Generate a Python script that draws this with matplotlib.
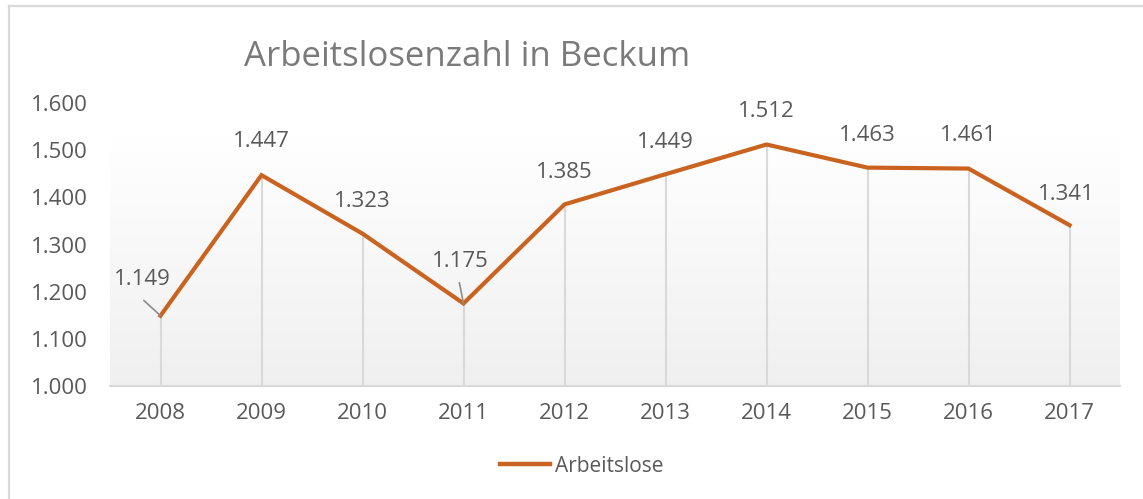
import numpy as np
import matplotlib.pyplot as plt
from matplotlib.lines import Line2D

# chart data
years = ['2008', '2009', '2010', '2011', '2012', '2013', '2014', '2015', '2016', '2017']
arbeitslose = [1149, 1447, 1323, 1175, 1385, 1449, 1512, 1463, 1461, 1341]
label_texts = ['1.149', '1.447', '1.323', '1.175', '1.385', '1.449', '1.512', '1.463', '1.461', '1.341']
y_ticks = [1000, 1100, 1200, 1300, 1400, 1500, 1600]
y_tick_labels = ['1.000', '1.100', '1.200', '1.300', '1.400', '1.500', '1.600']

plt.rcParams['font.family'] = ['Open Sans', 'DejaVu Sans']
text_col = '#595959'
line_col = '#c9631f'
grid_col = '#d9d9d9'

fig = plt.figure(figsize=(11.43, 4.99), dpi=100)
W, H = 1143, 499

# outer chart border
fig.add_artist(Line2D([9 / W, 9 / W], [0, 1 - 6 / H], color=grid_col, lw=1.6))
fig.add_artist(Line2D([9 / W, 1], [1 - 6 / H, 1 - 6 / H], color=grid_col, lw=1.6))

ax = fig.add_axes([110 / W, 1 - 386 / H, (1120 - 110) / W, (386 - 103) / H])
x = np.arange(len(years))
ax.set_xlim(-0.5, len(years) - 0.5)
ax.set_ylim(1000, 1600)

# plot area gradient (white on top, light grey at the bottom)
grad = np.linspace(1.0, 0.94, 256).reshape(-1, 1)
grad_img = np.dstack([grad, grad, grad])
ax.imshow(grad_img, extent=[-0.5, len(years) - 0.5, 1000, 1530], aspect='auto',
          origin='upper', zorder=0)

# drop lines
ax.vlines(x, 1000, arbeitslose, color=grid_col, lw=1.5, zorder=1)
ax.plot(x, arbeitslose, color=line_col, lw=3, solid_joinstyle='miter', zorder=3,
        label='Arbeitslose')

# data labels (offset in points)
offsets = [(-13, 26), (0, 24), (0, 23), (-2, 30), (0, 23), (0, 23), (0, 24), (0, 23), (0, 24), (-2, 22)]
for i, (val, txt) in enumerate(zip(arbeitslose, label_texts)):
    ax.annotate(txt, (x[i], val), xytext=offsets[i], textcoords='offset points',
                ha='center', va='center', fontsize=16, color=text_col, zorder=4)

# leader lines for the two labels that sit off the point
ax.annotate('', (x[0], arbeitslose[0]), xytext=(-12, 11), textcoords='offset points',
            arrowprops=dict(arrowstyle='-', color='#8c8c8c', lw=1.2, shrinkA=0, shrinkB=0))
ax.annotate('', (x[3], arbeitslose[3]), xytext=(-3, 15), textcoords='offset points',
            arrowprops=dict(arrowstyle='-', color='#8c8c8c', lw=1.2, shrinkA=0, shrinkB=0))

ax.set_xticks(x)
ax.set_xticklabels(years)
ax.set_yticks(y_ticks)
ax.set_yticklabels(y_tick_labels)
ax.tick_params(axis='both', length=0, labelsize=16, labelcolor=text_col)
ax.tick_params(axis='x', pad=12)
ax.tick_params(axis='y', pad=16)
for side in ['top', 'right', 'left']:
    ax.spines[side].set_visible(False)
ax.spines['bottom'].set_color(grid_col)
ax.spines['bottom'].set_linewidth(1.5)
ax.spines['bottom'].set_zorder(2)

fig.text(467 / W, 1 - 57 / H, 'Arbeitslosenzahl in Beckum', ha='center', va='center',
         fontsize=25, color='#7a7a7a')

fig.legend(handles=[Line2D([], [], color=line_col, lw=3.2)], labels=['Arbeitslose'],
           loc='center', bbox_to_anchor=(582 / W, 1 - 466 / H), frameon=False,
           fontsize=15, labelcolor=text_col, handlelength=2.4, handletextpad=0.25)

fig.savefig('out.png', dpi=100)
